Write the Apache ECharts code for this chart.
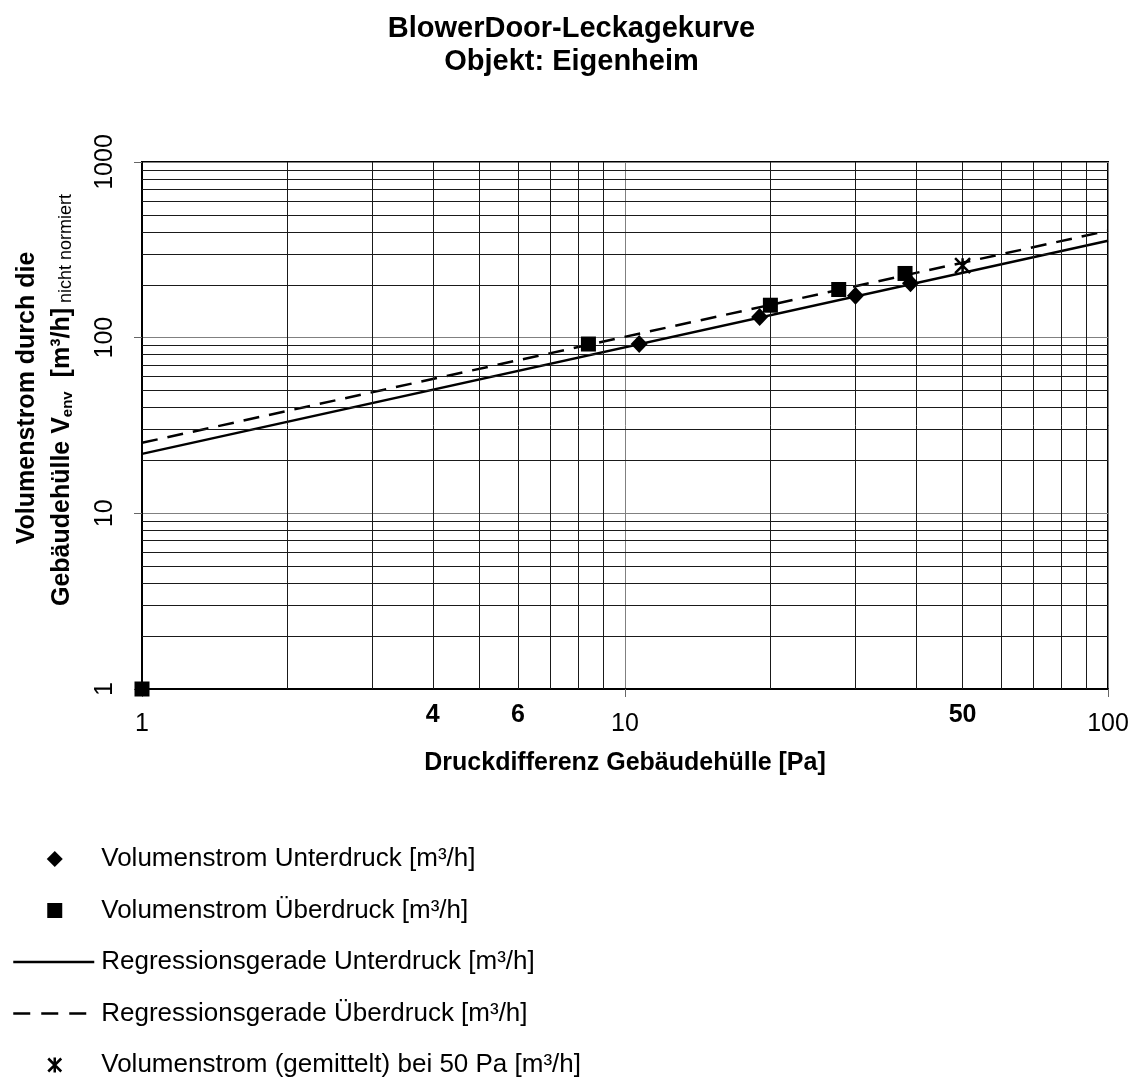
<!DOCTYPE html>
<html><head><meta charset="utf-8">
<script src="https://cdn.jsdelivr.net/npm/echarts@6/dist/echarts.min.js"></script>
<style>html,body{margin:0;padding:0;background:#fff}#c{width:1143px;height:1082px}</style>
</head><body><div id="c"></div>
<script>
// ---- data ----
const unterP = [10.7, 19, 30, 39];
const unterV = [92, 131, 173, 204];
const ueberP = [1, 8.4, 20, 27.7, 38];
const ueberV = [1, 92, 153, 188, 232];
const mittelP = [50];
const mittelV = [257];
const regUnterP = [1, 100];
const regUnterV = [21.8, 356];
const regUeberP = [1, 100];
const regUeberV = [25.2, 406];
const xLabelValues = [1, 4, 6, 10, 50, 100];
const xBoldLabels = [4, 6, 50];
const gridMinorX = [2, 3, 4, 5, 6, 7, 8, 9, 20, 30, 40, 50, 60, 70, 80, 90];
const gridMinorY = [2, 3, 4, 5, 6, 7, 8, 9, 20, 30, 40, 50, 60, 70, 80, 90, 200, 300, 400, 500, 600, 700, 800, 900];
const seriesNames = [
  'Volumenstrom Unterdruck [m³/h]',
  'Volumenstrom Überdruck [m³/h]',
  'Regressionsgerade Unterdruck [m³/h]',
  'Regressionsgerade Überdruck [m³/h]',
  'Volumenstrom (gemittelt) bei 50 Pa [m³/h]'
];

const FONT = '"Liberation Sans", Arial, sans-serif';
const zip = (a, b) => a.map((v, i) => [v, b[i]]);

// legend icons drawn in an 83x16 box (the stray moves fix the box size)
const BOX = 'path://M0,0M83,16';
const legendIcons = [
  BOX + 'M41.5,0L49.5,8L41.5,16L33.5,8Z',
  BOX + 'M34,0.5H49V15.5H34Z',
  BOX + 'M0,6.75H81V9.25H0Z',
  BOX + 'M0,6.75H17V9.25H0ZM28,6.75H45V9.25H28ZM56,6.75H73V9.25H56Z',
  BOX + 'M35,1.5L48,14.5M48,1.5L35,14.5M41.5,0.5L41.5,15.5'
];
const legendStyles = [
  {color: '#000', borderWidth: 0, opacity: 1},
  {color: '#000', borderWidth: 0, opacity: 1},
  {color: '#000', borderWidth: 0, opacity: 1},
  {color: '#000', borderWidth: 0, opacity: 1},
  {color: 'rgba(0,0,0,0)', borderColor: '#000', borderWidth: 2.5, opacity: 1}
];

const chart = echarts.init(document.getElementById('c'), null, {renderer: 'canvas'});
chart.setOption({
  animation: false,
  backgroundColor: '#fff',
  textStyle: {fontFamily: FONT, color: '#000'},
  title: {
    text: 'BlowerDoor-Leckagekurve\nObjekt: Eigenheim',
    left: 'center', top: 7,
    textStyle: {fontSize: 29, fontWeight: 'bold', lineHeight: 33, color: '#000', fontFamily: FONT}
  },
  grid: {left: 142, right: 35, top: 162, bottom: 393, show: true, borderColor: '#000', borderWidth: 2, containLabel: false},
  xAxis: {
    type: 'log', logBase: 10, min: 1, max: 100,
    name: 'Druckdifferenz Gebäudehülle [Pa]', nameLocation: 'middle', nameGap: 62,
    nameTextStyle: {fontSize: 25, fontWeight: 'bold', color: '#000', fontFamily: FONT},
    axisLine: {show: true, lineStyle: {color: '#000', width: 2}},
    axisTick: {show: true, length: 8, lineStyle: {color: '#666', width: 1}},
    axisLabel: {
      customValues: xLabelValues,
      margin: 8,
      formatter: v => (xBoldLabels.indexOf(v) >= 0 ? '{b|' + v + '}' : '{r|' + v + '}'),
      rich: {
        r: {fontSize: 25, lineHeight: 54, color: '#000', fontFamily: FONT},
        b: {fontSize: 25, lineHeight: 36, fontWeight: 'bold', color: '#000', fontFamily: FONT}
      }
    },
    splitLine: {show: true, lineStyle: {color: '#808080', width: 1}}
  },
  yAxis: {
    type: 'log', logBase: 10, min: 1, max: 1000,
    axisLine: {show: true, lineStyle: {color: '#000', width: 2}},
    axisTick: {show: true, length: 8, lineStyle: {color: '#666', width: 1}},
    axisLabel: {rotate: 90, fontSize: 25, margin: 24, color: '#000', fontFamily: FONT, formatter: v => String(v)},
    splitLine: {show: true, lineStyle: {color: '#808080', width: 1}}
  },
  legend: {
    orient: 'vertical', left: 12, top: 846, padding: 0, height: 236,
    itemWidth: 83, itemHeight: 16, itemGap: 25.5,
    selectedMode: false,
    textStyle: {fontSize: 26, lineHeight: 26, color: '#000', fontFamily: FONT},
    data: seriesNames.map((n, i) => ({name: n, icon: legendIcons[i], itemStyle: legendStyles[i]}))
  },
  graphic: [
    {
      type: 'text', x: 27, y: 398, rotation: Math.PI / 2,
      style: {text: 'Volumenstrom durch die', fontSize: 25, fontWeight: 'bold', fontFamily: FONT,
        fill: '#000', align: 'center', verticalAlign: 'middle'}
    },
    {
      type: 'text', x: 60, y: 400, rotation: Math.PI / 2,
      style: {
        text: '{a|Gebäudehülle V}{s|env}{a|  [m³/h]}{n| nicht normiert}',
        align: 'center', verticalAlign: 'middle', fill: '#000',
        rich: {
          a: {fontSize: 25, fontWeight: 'bold', fontFamily: FONT, fill: '#000', lineHeight: 30, verticalAlign: 'bottom'},
          s: {fontSize: 15, fontWeight: 'bold', fontFamily: FONT, fill: '#000', lineHeight: 18, verticalAlign: 'bottom'},
          n: {fontSize: 18, fontFamily: FONT, fill: '#000', lineHeight: 26, verticalAlign: 'bottom'}
        }
      }
    }
  ],
  series: [
    {
      name: seriesNames[0], type: 'scatter', symbol: 'diamond', symbolSize: [17, 18], clip: false, z: 6,
      itemStyle: {color: '#000', opacity: 1}, data: zip(unterP, unterV)
    },
    {
      name: seriesNames[1], type: 'scatter', symbol: 'rect', symbolSize: 15, clip: false, z: 7,
      itemStyle: {color: '#000', opacity: 1}, data: zip(ueberP, ueberV)
    },
    {
      name: seriesNames[2], type: 'line', symbol: 'none', showSymbol: false, z: 4,
      lineStyle: {color: '#000', width: 2.5, type: 'solid'}, itemStyle: {color: '#000'},
      data: zip(regUnterP, regUnterV)
    },
    {
      name: seriesNames[3], type: 'line', symbol: 'none', showSymbol: false, z: 4,
      lineStyle: {color: '#000', width: 2.5, type: [16, 10]}, itemStyle: {color: '#000'},
      data: zip(regUeberP, regUeberV)
    },
    {
      name: seriesNames[4], type: 'scatter', symbol: 'path://M0,0L16,16M16,0L0,16M8,0L8,16', symbolSize: 15, clip: false, z: 8,
      itemStyle: {color: 'rgba(0,0,0,0)', borderColor: '#000', borderWidth: 2.5, opacity: 1},
      data: zip(mittelP, mittelV)
    },
    {
      name: '_grid', type: 'line', data: [], z: 1, silent: true,
      markLine: {
        silent: true, symbol: ['none', 'none'], animation: false,
        label: {show: false},
        lineStyle: {color: '#1a1a1a', width: 1, type: 'solid'},
        emphasis: {disabled: true},
        data: gridMinorX.map(v => ({xAxis: v})).concat(gridMinorY.map(v => ({yAxis: v})))
      }
    }
  ]
});
</script>
</body></html>
